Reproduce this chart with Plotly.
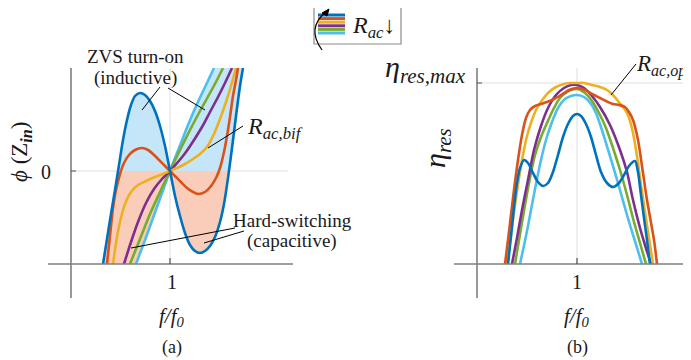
import numpy as np
import plotly.graph_objects as go

# ---------------- data: panel (a) phase of Zin vs f/f0 (phase in deg, schematic) -------------
f_blue_a = [0.665, 0.685, 0.705, 0.725, 0.745, 0.765, 0.785, 0.805, 0.825, 0.85, 0.875, 0.90, 0.925, 0.95, 0.975,
            1.0, 1.025, 1.05, 1.075, 1.10, 1.125, 1.15, 1.175, 1.20, 1.225, 1.25, 1.27, 1.29, 1.31, 1.33, 1.35, 1.365]
p_blue_a = [-93, -68, -43, -19, 6, 31, 51, 66, 75, 78, 76, 70, 60, 45, 25,
            0, -25, -45, -62, -74, -80, -82, -80, -75, -66, -51, -33, -7, 23, 55, 85, 103]

f_red_a = [0.685, 0.695, 0.705, 0.715, 0.73, 0.75, 0.77, 0.795, 0.825, 0.86, 0.89, 0.92, 0.95, 0.975, 1.0,
           1.025, 1.055, 1.085, 1.115, 1.14, 1.175, 1.205, 1.23, 1.25, 1.27, 1.285, 1.30, 1.315, 1.33, 1.34]
p_red_a = [-93, -74, -55, -37, -19, -3, 8, 16, 21, 23, 21, 16, 10, 5, 0,
           -5, -11, -17, -21, -23, -21, -15, -7, 3, 19, 35, 54, 75, 91, 103]

f_yel_a = [0.715, 0.73, 0.75, 0.775, 0.805, 0.84, 0.88, 0.925, 0.965, 1.0, 1.035, 1.075, 1.115, 1.15, 1.185,
           1.22, 1.25, 1.28, 1.305, 1.33]
p_yel_a = [-93, -72, -51, -33, -21, -14, -10, -6, -3, 0, 3, 7, 12, 17, 24, 37, 52, 69, 85, 103]

f_pur_a = [0.77, 0.805, 0.84, 0.88, 0.92, 0.96, 1.0, 1.04, 1.08, 1.12, 1.16, 1.20, 1.24, 1.275, 1.31]
p_pur_a = [-93, -71, -51, -32, -18, -8, 0, 9, 19, 31, 44, 59, 74, 88, 103]

f_grn_a = [0.80, 0.85, 0.90, 0.95, 1.0, 1.05, 1.10, 1.15, 1.20, 1.235, 1.265]
p_grn_a = [-93, -68, -43, -21, 0, 21, 41, 60, 78, 91, 103]

f_lbl_a = [0.83, 0.875, 0.915, 0.96, 1.0, 1.045, 1.09, 1.135, 1.18, 1.22]
p_lbl_a = [-93, -69, -47, -22, 0, 23, 46, 67, 86, 103]

# ---------------- data: panel (b) efficiency vs f/f0 (eta in %, schematic) ----------------
f_blue_b = [0.655, 0.67, 0.685, 0.70, 0.715, 0.735, 0.755, 0.78, 0.805, 0.83, 0.855, 0.88, 0.905, 0.93, 0.955,
            0.98, 1.0, 1.02, 1.045, 1.07, 1.095, 1.12, 1.15, 1.18, 1.21, 1.235, 1.26, 1.29, 1.305, 1.32, 1.335,
            1.35, 1.365]
e_blue_b = [0, 14, 28.5, 40.5, 48, 52, 50.5, 45.5, 41, 39, 40.5, 46, 54.5, 63.5, 70,
            74, 75, 74, 70, 63.5, 54.5, 46, 40.5, 38.5, 40.5, 44.5, 49, 51.5, 46, 34.5, 23,
            12, 0]

f_red_b = [0.64, 0.655, 0.67, 0.685, 0.705, 0.725, 0.745, 0.765, 0.79, 0.82, 0.85, 0.885, 0.92, 0.96, 1.0,
           1.04, 1.075, 1.115, 1.145, 1.18, 1.21, 1.24, 1.26, 1.28, 1.305, 1.33, 1.35, 1.365, 1.385, 1.40]
e_red_b = [0, 12, 24.5, 37, 52, 64.5, 73, 77, 79, 80, 81, 82.5, 84.5, 87, 88,
           87, 85, 83, 81.5, 80, 79.5, 78.5, 76, 72, 62, 45.5, 32, 23.5, 12, 0]

f_yel_b = [0.65, 0.67, 0.69, 0.71, 0.73, 0.75, 0.775, 0.80, 0.83, 0.86, 0.895, 0.935, 0.965, 1.0, 1.035,
           1.075, 1.115, 1.15, 1.18, 1.205, 1.23, 1.25, 1.265, 1.28, 1.30, 1.32, 1.34, 1.36, 1.38]
e_yel_b = [0, 14.5, 29.5, 43, 54.5, 64, 72, 78, 82.5, 86, 88.5, 90, 90.5, 90.5, 90.5,
           89.5, 88.5, 87, 84.5, 81.5, 78.5, 75.5, 71.5, 65.5, 54, 39.5, 26, 13, 0]

f_pur_b = [0.675, 0.70, 0.725, 0.755, 0.785, 0.82, 0.855, 0.895, 0.935, 0.97, 1.0, 1.035, 1.075, 1.115, 1.165,
           1.215, 1.25, 1.28, 1.315, 1.34, 1.37]
e_pur_b = [0, 13, 27, 42, 57, 69, 78, 84.5, 88, 89.5, 89.5, 88, 84, 78.5, 69.5,
           57, 46, 32, 18, 9.5, 0]

f_grn_b = [0.69, 0.715, 0.74, 0.765, 0.79, 0.82, 0.85, 0.88, 0.915, 0.95, 1.0, 1.04, 1.075, 1.115, 1.145,
           1.18, 1.215, 1.25, 1.285, 1.315, 1.345]
e_grn_b = [0, 15, 29.5, 43, 54.5, 63.5, 70.5, 77, 83, 86, 87.5, 85.5, 81.5, 74.5, 68,
           58, 47, 34.5, 21, 10.5, 0]

f_lbl_b = [0.715, 0.745, 0.77, 0.795, 0.82, 0.845, 0.875, 0.905, 0.94, 0.97, 1.0, 1.035, 1.07, 1.095, 1.115,
           1.145, 1.18, 1.215, 1.25, 1.285, 1.325]
e_lbl_b = [0, 14, 27, 40, 52, 62, 71, 78, 82.5, 84, 84.5, 83.5, 80, 75.5, 70,
           60.5, 49, 37, 24.5, 13, 0]

ETA_MAX = 90.5
PHI_BOTTOM = -93

colors = {"blue": "#0072BD", "red": "#D95319", "yel": "#EDB120",
          "pur": "#7E2F8E", "grn": "#77AC30", "lbl": "#4DBEEE"}
FILL_IND = "rgba(196,230,248,1)"
FILL_CAP = "rgba(249,205,186,1)"
FONT = "Liberation Serif, Times New Roman, Times, serif"
W, H = 691, 360
OX, OY = -8, -8   # global layout offset in pixels


def px(x):
    return (x + OX) / W


def py(y):
    return 1 - (y + OY) / H


fig = go.Figure()

# ---------- shaded regions (derived from the curves) ----------
fb = np.array(f_blue_a)
pb = np.array(p_blue_a)
fl = np.array(f_lbl_a)
pl = np.array(p_lbl_a)
m_l = (fb > 0.7) & (fb < 0.8)
f_zl = np.interp(0, pb[m_l], fb[m_l])
m_r = (fb > 1.25) & (fb < 1.34)
f_zr = np.interp(0, pb[m_r], fb[m_r])

m = (fb > f_zl) & (fb < 1.0)
x1 = [f_zl] + list(fb[m]) + [1.0]
y1 = [0] + list(pb[m]) + [0]
ml = fl >= 1.0
mb = fb > f_zr
x2 = list(fl[ml]) + list(fb[mb][::-1]) + [f_zr]
y2 = list(pl[ml]) + list(pb[mb][::-1]) + [0]
mb3 = fb < f_zl
ml3 = fl <= 1.0
x3 = list(fb[mb3]) + [f_zl, 1.0] + list(fl[ml3][::-1])
y3 = list(pb[mb3]) + [0, 0] + list(pl[ml3][::-1])
m4 = (fb > 1.0) & (fb < f_zr)
x4 = [1.0] + list(fb[m4]) + [f_zr]
y4 = [0] + list(pb[m4]) + [0]

for xs, ys, c in [(x1, y1, FILL_IND), (x2, y2, FILL_IND), (x3, y3, FILL_CAP), (x4, y4, FILL_CAP)]:
    fig.add_trace(go.Scatter(x=xs, y=ys, fill="toself", fillcolor=c, mode="lines",
                             line=dict(width=0, color=c), hoverinfo="skip", showlegend=False,
                             xaxis="x", yaxis="y"))

# ---------- curves ----------
series_a = [(f_lbl_a, p_lbl_a, "lbl"), (f_grn_a, p_grn_a, "grn"), (f_pur_a, p_pur_a, "pur"),
            (f_yel_a, p_yel_a, "yel"), (f_red_a, p_red_a, "red"), (f_blue_a, p_blue_a, "blue")]
for xs, ys, k in series_a:
    fig.add_trace(go.Scatter(x=xs, y=ys, mode="lines",
                             line=dict(color=colors[k], width=2.6, shape="spline", smoothing=0.8),
                             showlegend=False, xaxis="x", yaxis="y"))

series_b = [(f_lbl_b, e_lbl_b, "lbl"), (f_grn_b, e_grn_b, "grn"), (f_pur_b, e_pur_b, "pur"),
            (f_yel_b, e_yel_b, "yel"), (f_red_b, e_red_b, "red"), (f_blue_b, e_blue_b, "blue")]
for xs, ys, k in series_b:
    fig.add_trace(go.Scatter(x=xs, y=ys, mode="lines",
                             line=dict(color=colors[k], width=2.6, shape="spline", smoothing=0.8),
                             showlegend=False, xaxis="x2", yaxis="y2"))

# ---------- axes drawn as shapes ----------
AX = "#7f7f7f"
GR = "#dedede"
shapes = []


def dline(xr, yr, x0, y0, x1_, y1_, color, width, layer="below"):
    shapes.append(dict(type="line", xref=xr, yref=yr, x0=x0, y0=y0, x1=x1_, y1=y1_,
                       line=dict(color=color, width=width), layer=layer))


dline("x", "y", 1.0, PHI_BOTTOM, 1.0, 103, GR, 1)
dline("x", "y", 0.505, 0, 1.59, 0, GR, 1)
dline("x", "y", 0.39, PHI_BOTTOM, 1.615, PHI_BOTTOM, AX, 1.6, "above")
dline("x", "y", 0.505, -127, 0.505, 103, AX, 1.6, "above")
dline("x", "y", 0.505, 0, 0.53, 0, "#555", 1, "above")
dline("x", "y", 1.0, PHI_BOTTOM, 1.0, PHI_BOTTOM + 6, "#333", 1, "above")
dline("x2", "y2", 1.0, 0, 1.0, 98, GR, 1)
dline("x2", "y2", 0.5, ETA_MAX, 1.61, ETA_MAX, GR, 1)
dline("x2", "y2", 0.385, 0, 1.61, 0, AX, 1.6, "above")
dline("x2", "y2", 0.5, -17, 0.5, 98, AX, 1.6, "above")
dline("x2", "y2", 0.5, ETA_MAX, 0.525, ETA_MAX, "#555", 1, "above")
dline("x2", "y2", 1.0, 0, 1.0, 3, "#333", 1, "above")


def pline(a, b, color="black", width=1):
    shapes.append(dict(type="line", xref="paper", yref="paper", x0=px(a[0]), y0=py(a[1]),
                       x1=px(b[0]), y1=py(b[1]), line=dict(color=color, width=width), layer="above"))


pline((160, 87), (142, 110))
pline((168, 88), (205, 110))
pline((243, 126), (208, 148))
pline((235, 228), (131, 248))
pline((244, 231), (204, 243))
pline((636, 64), (611, 95))

# legend box
shapes.append(dict(type="rect", xref="paper", yref="paper", x0=px(314), y0=py(3), x1=px(401), y1=py(44),
                   line=dict(color="#8c8c8c", width=1.2), fillcolor="white", layer="above"))
leg_cols = ["blue", "red", "yel", "pur", "grn", "lbl"]
for i, k in enumerate(leg_cols):
    yy = 15 + i * 3.6
    pline((318, yy), (345, yy), colors[k], 3)

arc = "M %f,%f Q %f,%f %f,%f" % (px(322), py(50), px(306), py(28), px(326), py(12))
shapes.append(dict(type="path", xref="paper", yref="paper", path=arc, line=dict(color="black", width=1.2),
                   layer="above"))
head = "M %f,%f L %f,%f L %f,%f Z" % (px(329), py(9), px(322), py(13), px(327), py(16))
shapes.append(dict(type="path", xref="paper", yref="paper", path=head, line=dict(color="black", width=1),
                   fillcolor="black", layer="above"))

# ---------- text ----------
ann = []


def txt(x, y, s, size=19, xanchor="center", angle=0, yanchor="middle"):
    ann.append(dict(x=px(x), y=py(y), xref="paper", yref="paper", text=s, showarrow=False,
                    xanchor=xanchor, yanchor=yanchor, textangle=angle,
                    font=dict(family=FONT, size=size, color="#1a1a1a")))


txt(136, 57, "ZVS turn-on")
txt(136, 78, "(inductive)")
txt(292, 220, "Hard-switching")
txt(292, 241, "(capacitive)")
txt(245, 128, "<i>R</i><sub><i>ac,bif</i></sub>", size=24, xanchor="left")
txt(634, 66, "<i>R</i><sub><i>ac,op</i></sub>", size=23, xanchor="left")
txt(350, 27, "<i>R</i><sub><i>ac</i></sub>↓", size=24, xanchor="left")
txt(468, 69, "<i>η</i><sub><i>res,max</i></sub>", size=30, xanchor="right")
txt(437, 148, "<i>η</i><sub><i>res</i></sub>", size=30, angle=-90)
txt(21, 152, "<i>ϕ</i> (Z<sub><b><i>in</i></b></sub>)", size=23, angle=-90)
txt(46, 172, "0", size=20)
txt(172, 282, "1", size=20)
txt(577, 282, "1", size=20)
txt(172, 317, "<i>f/f</i><sub><i>0</i></sub>", size=21)
txt(577, 317, "<i>f/f</i><sub><i>0</i></sub>", size=21)
txt(172, 347, "(a)", size=18)
txt(577, 347, "(b)", size=18)

fig.update_layout(
    width=W, height=H, margin=dict(l=0, r=0, t=0, b=0),
    paper_bgcolor="white", plot_bgcolor="white", showlegend=False,
    xaxis=dict(domain=[(48 + OX) / W, (293 + OX) / W], range=[0.39, 1.615], visible=False),
    yaxis=dict(domain=[1 - (298 + OY) / H, 1 - (68 + OY) / H], range=[-127, 103], visible=False),
    xaxis2=dict(domain=[(454 + OX) / W, 1.0], range=[0.385, 0.385 + (691 - 454 - OX) * 0.005],
                visible=False, anchor="y2"),
    yaxis2=dict(domain=[1 - (298 + OY) / H, 1 - (68 + OY) / H], range=[-17, 98], visible=False, anchor="x2"),
    shapes=shapes, annotations=ann,
)

fig.write_html("out.html")
